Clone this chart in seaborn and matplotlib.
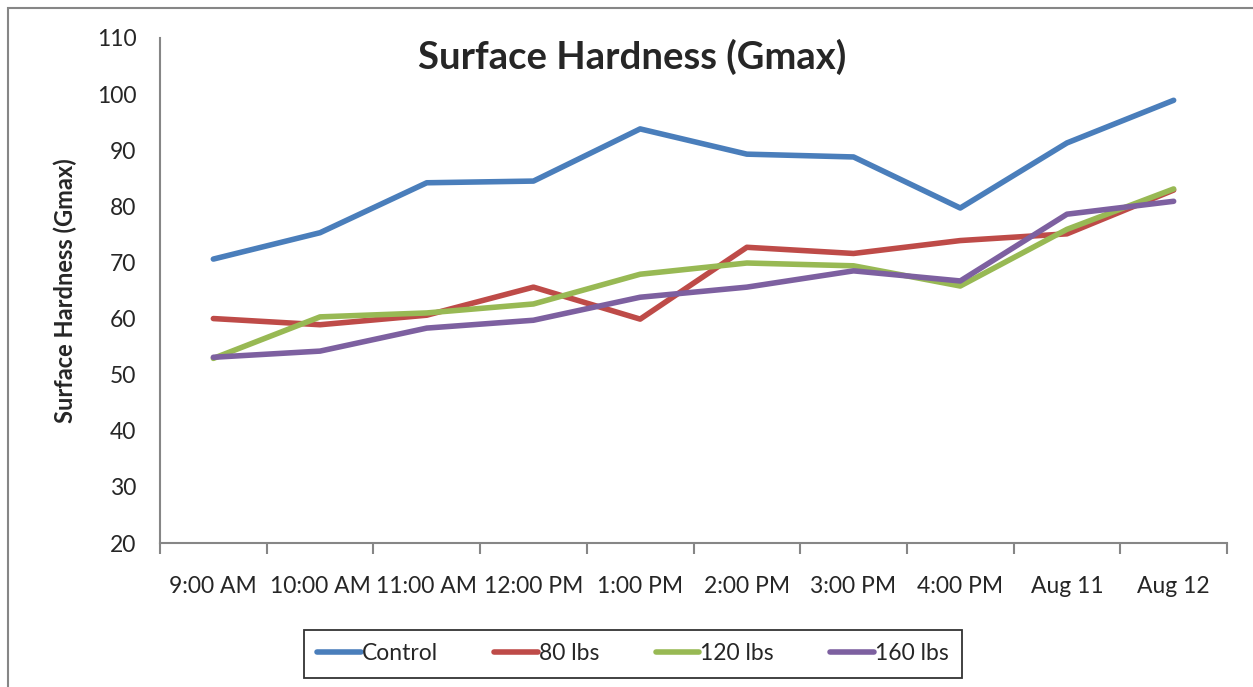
import matplotlib
matplotlib.use("Agg")
import matplotlib.pyplot as plt
import seaborn as sns
import pandas as pd
from matplotlib.patches import Rectangle
from matplotlib.ticker import FixedLocator

categories = ["9:00 AM", "10:00 AM", "11:00 AM", "12:00 PM", "1:00 PM",
              "2:00 PM", "3:00 PM", "4:00 PM", "Aug 11", "Aug 12"]
control = [70.6, 75.3, 84.2, 84.5, 93.8, 89.3, 88.8, 79.7, 91.3, 98.9]
lbs80 = [60.0, 58.9, 60.6, 65.6, 59.9, 72.7, 71.6, 73.9, 75.1, 82.9]
lbs120 = [52.9, 60.3, 61.0, 62.6, 67.9, 69.9, 69.4, 65.8, 75.9, 83.1]
lbs160 = [53.1, 54.2, 58.3, 59.7, 63.8, 65.6, 68.5, 66.7, 78.6, 80.9]
series_names = ["Control", "80 lbs", "120 lbs", "160 lbs"]
colors = ["#4A7EBB", "#BE4B48", "#98B954", "#7D60A0"]

rows = []
for name, vals in zip(series_names, [control, lbs80, lbs120, lbs160]):
    for i, (c, v) in enumerate(zip(categories, vals)):
        rows.append({"pos": i, "Time": c, "Series": name, "Value": v})
df = pd.DataFrame(rows)

sns.set_style("white")
plt.rcParams["font.family"] = ["Lato", "DejaVu Sans"]

fig = plt.figure(figsize=(12.53, 6.87), dpi=100)
ax = fig.add_axes([160 / 1253, 1 - 543 / 687, (1227 - 160) / 1253, (543 - 38) / 687])

sns.lineplot(data=df, x="pos", y="Value", hue="Series", hue_order=series_names,
             palette=colors, linewidth=4.0, sort=False, ax=ax,
             solid_capstyle="round", solid_joinstyle="round")

ax.set_xlim(-0.5, len(categories) - 0.5)
ax.set_ylim(20, 110)
ax.set_yticks(range(20, 111, 10))
ax.set_xticks(range(len(categories)))
ax.set_xticklabels(categories, fontsize=16.5)
ax.xaxis.set_minor_locator(FixedLocator([i - 0.5 for i in range(len(categories) + 1)]))
ax.tick_params(axis="x", which="major", length=0, pad=24)
ax.tick_params(axis="x", which="minor", length=8, color="#868686", width=1.5, direction="out")
ax.tick_params(axis="y", length=7, color="#868686", width=1.5, direction="out", labelsize=16.5, pad=10)
ax.tick_params(axis="x", bottom=True, which="both")
for s in ["top", "right"]:
    ax.spines[s].set_visible(False)
for s in ["left", "bottom"]:
    ax.spines[s].set_color("#868686")
    ax.spines[s].set_linewidth(1.5)
ax.set_xlabel("")
ax.set_ylabel("Surface Hardness (Gmax)", fontsize=17, fontweight="bold", labelpad=14)

fig.text(632 / 1253, 1 - 57 / 687, "Surface Hardness (Gmax)", fontsize=27.5,
         fontweight="bold", ha="center", va="center")

handles, labels = ax.get_legend_handles_labels()
if ax.legend_:
    ax.legend_.remove()
leg = fig.legend(handles, labels, loc="center", bbox_to_anchor=(633 / 1253, 1 - 654 / 687),
                 ncol=4, frameon=True, fancybox=False, fontsize=16.5,
                 handlelength=1.9, handletextpad=0.05, columnspacing=2.45,
                 borderpad=0.6, borderaxespad=0, edgecolor="black")
leg.get_frame().set_linewidth(1.3)
for h in leg.get_lines():
    h.set_linewidth(4.0)

fig.patches.append(Rectangle((8 / 1253, -0.05), 1.1, 1 - 8 / 687 + 0.05,
                             transform=fig.transFigure, fill=False,
                             edgecolor="#868686", linewidth=1.5))

fig.savefig("out.png", dpi=100)
